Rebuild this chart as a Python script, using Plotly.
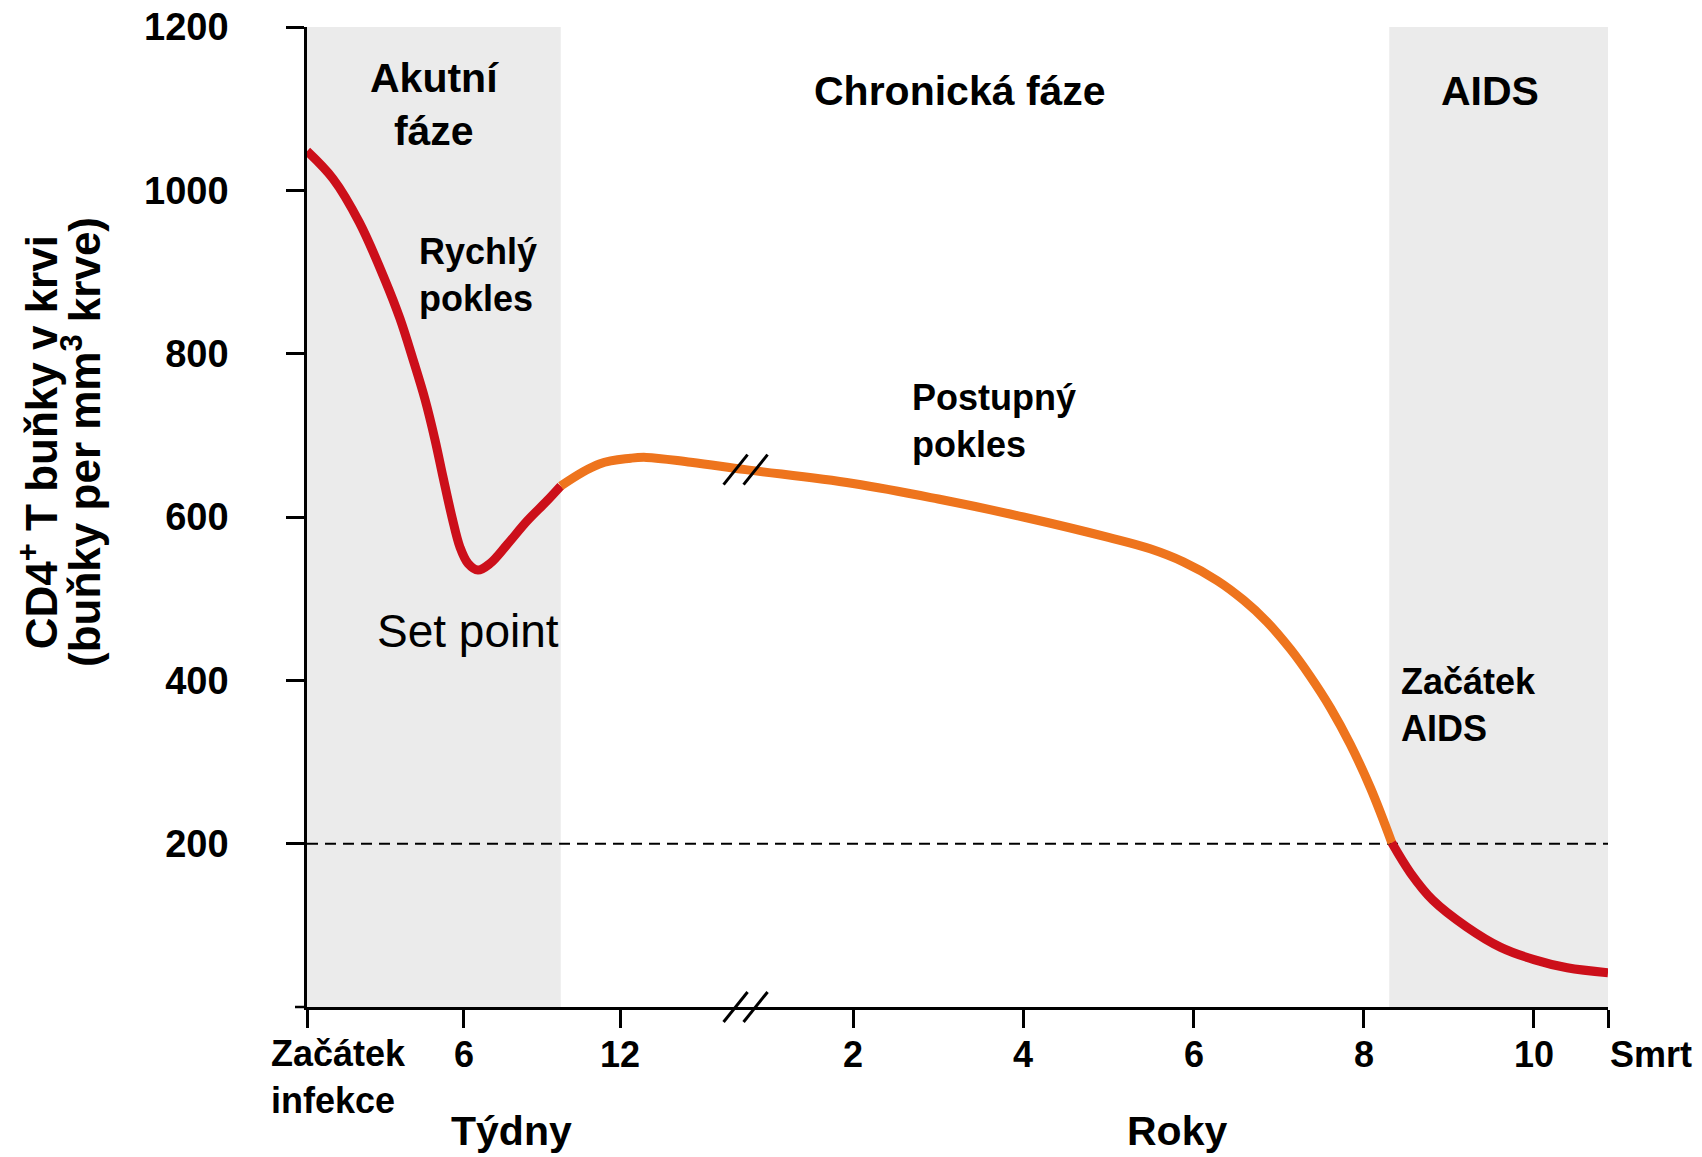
import numpy as np
import plotly.graph_objects as go

# ---------------- data ----------------
# Acute phase, time in weeks since infection
weeks_acute = [0.0, 1.0, 2.0, 2.99, 3.56, 4.06, 4.52, 4.90, 5.21, 5.56, 5.86, 6.17, 6.55, 7.01,
               7.66, 8.43, 9.20, 9.72]
cd4_acute = [1048, 1014, 961, 890, 843, 793, 744, 695, 649, 599, 563, 543, 535, 543,
             566, 595, 620, 638]

# Early chronic phase (weeks side of the axis break)
weeks_plateau = [9.72, 11.2, 12.4, 13.0, 14.7, 16.8]
cd4_plateau = [638, 665, 672, 673, 667, 658]

# Chronic phase, time in years
years_chronic = [2.0, 3.0, 4.0, 5.0, 5.49, 5.88, 6.28, 6.59, 6.86, 7.14, 7.37, 7.61, 7.84, 8.08, 8.33]
cd4_chronic = [641, 622, 600, 575, 561, 545, 522, 498, 472, 438, 405, 366, 322, 268, 201]

# AIDS phase, time in years
years_aids = [8.33, 8.55, 8.81, 9.21, 9.61, 10.0, 10.39, 10.87]
cd4_aids = [201, 164, 131, 98, 73, 58, 48, 42]

week_ticks = [0, 6, 12]
week_tick_labels = ["Začátek<br>infekce", "6", "12"]
year_ticks = [2, 4, 6, 8, 10]
year_tick_labels = ["2", "4", "6", "8", "10"]
death_year = 10.87
death_label = "Smrt"

y_ticks = [200, 400, 600, 800, 1000, 1200]
aids_threshold = 200
acute_end_week = 9.72
aids_start_year = 8.30
break_week = 16.8

# ---------------- broken time scale ----------------
YEAR_OFFSET = 14.40
YEAR_SCALE = 3.26


def pos_week(w):
    return np.asarray(w, dtype=float)


def pos_year(y):
    return YEAR_OFFSET + YEAR_SCALE * np.asarray(y, dtype=float)


XMAX = float(pos_year(death_year))

FONT = "Liberation Sans, Arial, Helvetica, sans-serif"
RED = "#cc0f1a"
ORANGE = "#ee741d"
GRAY = "#ebebeb"
LW = 9

fig = go.Figure()

# curve: red (acute) -> orange (chronic) -> red (AIDS)
fig.add_trace(go.Scatter(
    x=pos_week(weeks_acute), y=cd4_acute, mode="lines",
    line=dict(color=RED, width=LW, shape="spline", smoothing=1.0),
    hoverinfo="skip", showlegend=False))
fig.add_trace(go.Scatter(
    x=np.concatenate([pos_week(weeks_plateau), pos_year(years_chronic)]),
    y=cd4_plateau + cd4_chronic, mode="lines",
    line=dict(color=ORANGE, width=LW, shape="spline", smoothing=1.1),
    hoverinfo="skip", showlegend=False))
fig.add_trace(go.Scatter(
    x=pos_year(years_aids), y=cd4_aids, mode="lines",
    line=dict(color=RED, width=LW, shape="spline", smoothing=1.0),
    hoverinfo="skip", showlegend=False))

shapes = []
# phase shading
shapes.append(dict(type="rect", xref="x", yref="y", x0=0, x1=float(pos_week(acute_end_week)),
                   y0=0, y1=1200, fillcolor=GRAY, line=dict(width=0), layer="below"))
shapes.append(dict(type="rect", xref="x", yref="y", x0=float(pos_year(aids_start_year)), x1=XMAX,
                   y0=0, y1=1200, fillcolor=GRAY, line=dict(width=0), layer="below"))
# AIDS threshold
shapes.append(dict(type="line", xref="x", yref="y", x0=0, x1=XMAX, y0=aids_threshold, y1=aids_threshold,
                   line=dict(color="black", width=2, dash="11px,7px"), layer="below"))
# x-axis line extension to the left of the y axis
shapes.append(dict(type="line", xref="paper", yref="paper", x0=-12 / 1301, x1=0, y0=0, y1=0,
                   line=dict(color="black", width=2.5)))
# axis-break marks (on the curve and on the x axis)
bx = float(pos_week(break_week))
for dx in (-10, 10):
    shapes.append(dict(type="line", xref="x", yref="y", xsizemode="pixel", ysizemode="pixel",
                       xanchor=bx, yanchor=cd4_plateau[-1], x0=dx - 12, x1=dx + 12, y0=-15, y1=15,
                       line=dict(color="black", width=3)))
    shapes.append(dict(type="line", xref="paper", yref="paper", xsizemode="pixel", ysizemode="pixel",
                       xanchor=bx / XMAX, yanchor=0, x0=dx - 12, x1=dx + 12, y0=-15, y1=15,
                       line=dict(color="black", width=3)))

ann = []


def txt(text, x, y, size, xanchor="center", xref="x", yref="y", bold=True, align="center", angle=0):
    ann.append(dict(text=("<b>%s</b>" % text) if bold else text, x=x, y=y, xref=xref, yref=yref,
                    xanchor=xanchor, yanchor="middle", align=align, showarrow=False, textangle=angle,
                    font=dict(family=FONT, size=size, color="black")))


# phase titles
txt("Akutní<br>fáze", 4.87, 1105, 41)
txt("Chronická fáze", 25.0, 1122, 41)
txt("AIDS", 45.33, 1122, 41)
# notes
txt("Rychlý<br>pokles", 4.21, 896, 36, xanchor="left", align="left")
txt("Set point", 6.17, 461, 46, bold=False)
txt("Postupný<br>pokles", 23.1, 718, 36, xanchor="left", align="left")
txt("Začátek<br>AIDS", 41.84, 370, 36, xanchor="left", align="left")

# x tick labels (placed under the ticks, paper x = position / XMAX)
for v, lab in zip(week_ticks, week_tick_labels):
    px = float(pos_week(v)) / XMAX
    if "<br>" in lab:
        txt(lab, px - 1.46 / XMAX, -0.0714, 36, xanchor="left", xref="paper", yref="paper", align="left")
    else:
        txt(lab, px, -0.048, 36, xref="paper", yref="paper")
for v, lab in zip(year_ticks, year_tick_labels):
    txt(lab, float(pos_year(v)) / XMAX, -0.048, 36, xref="paper", yref="paper")
txt(death_label, 1.0, -0.048, 36, xanchor="left", xref="paper", yref="paper")

# unit labels
txt("Týdny", 7.85 / XMAX, -0.1265, 41, xref="paper", yref="paper")
txt("Roky", 33.33 / XMAX, -0.1265, 41, xref="paper", yref="paper")

# y title (two lines)
txt("CD4<sup>+</sup> T buňky v krvi", -0.2074, 0.5765, 44, xref="paper", yref="paper", angle=-90)
txt("(buňky per mm<sup>3</sup> krve)", -0.1738, 0.5765, 44, xref="paper", yref="paper", angle=-90)

tick_x = list(pos_week(week_ticks)) + list(pos_year(year_ticks)) + [XMAX]

fig.update_layout(
    width=1702, height=1157,
    margin=dict(l=307, r=94, t=27, b=150, autoexpand=False),
    paper_bgcolor="white", plot_bgcolor="white",
    shapes=shapes, annotations=ann,
    xaxis=dict(range=[0, XMAX], showgrid=False, zeroline=False, showline=True,
               linecolor="black", linewidth=2.5, ticks="outside", ticklen=18, tickwidth=2.5,
               tickcolor="black", tickvals=tick_x, showticklabels=False, fixedrange=True,
               automargin=False),
    yaxis=dict(range=[0, 1200], showgrid=False, zeroline=False, showline=True,
               linecolor="black", linewidth=2.5, ticks="outside", ticklen=18, tickwidth=2.5,
               tickcolor="black", tickvals=y_ticks, ticktext=["<b>%d</b>" % v for v in y_ticks],
               tickfont=dict(family=FONT, size=38, color="black"), ticklabelstandoff=50,
               fixedrange=True, automargin=False),
)

fig.write_html("out.html", config={"displayModeBar": False},
               post_script="document.body.style.margin='0px';")
